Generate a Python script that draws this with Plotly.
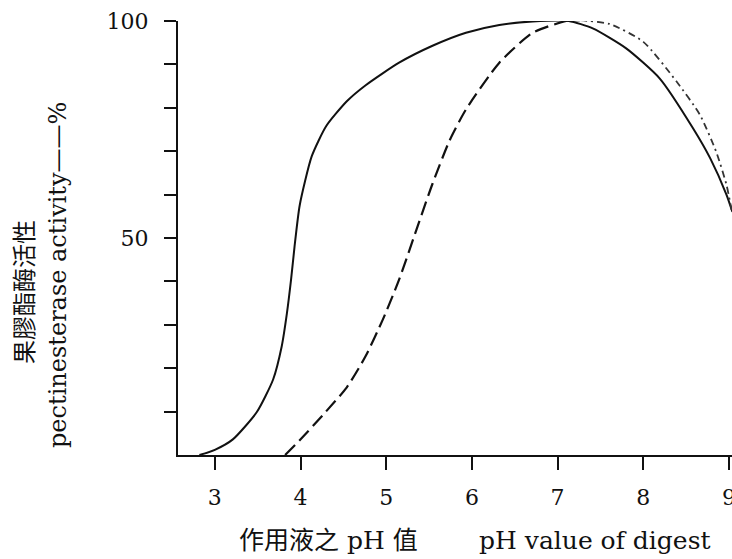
import plotly.graph_objects as go

# Solid curve (pH, activity %)
ph_solid = [2.82, 3.0, 3.21, 3.49, 3.68, 3.78, 3.84, 3.89, 3.93, 3.99, 4.13, 4.30, 4.54, 4.76,
            5.15, 5.54, 5.93, 6.32, 6.71, 7.13, 7.41, 7.80, 8.19, 8.58, 8.78, 8.97, 9.04]
act_solid = [0, 1.2, 3.6, 9.9, 17.4, 25, 32.5, 40.5, 48, 57.5, 68.8, 75.8, 81.5, 85.2,
             90.4, 94.3, 97.3, 99.1, 99.9, 100, 98.3, 93.7, 86.8, 75.3, 68.4, 60.0, 56]

# Dashed curve, rising part
ph_dash_rise = [3.82, 3.99, 4.26, 4.54, 4.76, 4.96, 5.15, 5.38, 5.54, 5.74, 5.93, 6.32, 6.71, 7.10, 7.26]
act_dash_rise = [0, 3.4, 9.2, 15.6, 22.8, 31.2, 40.4, 53.5, 62.5, 72.5, 79.6, 90.4, 97.3, 100, 100.2]

# Dashed curve, falling part (dash-dot)
ph_dash_fall = [7.26, 7.61, 8.00, 8.39, 8.66, 8.85, 8.97, 9.03]
act_dash_fall = [100.2, 99.3, 95.2, 86.0, 78.4, 69.9, 62.3, 56.5]

x_tickvals = [3, 4, 5, 6, 7, 8, 9]
x_ticktext = ["3", "4", "5", "6", "7", "8", "9"]
y_tickvals = [10, 20, 30, 40, 50, 60, 70, 80, 90, 100]
y_ticktext = ["", "", "", "", "50", "", "", "", "", "100"]

SERIF = "DejaVu Serif, Noto Sans CJK TC"

fig = go.Figure()
fig.add_trace(go.Scatter(x=ph_solid, y=act_solid, mode="lines",
                         line=dict(color="#111", width=2, shape="spline", smoothing=0.6),
                         showlegend=False, cliponaxis=False))
fig.add_trace(go.Scatter(x=ph_dash_rise, y=act_dash_rise, mode="lines",
                         line=dict(color="#111", width=2.2, shape="spline", smoothing=0.6, dash="14px,6px"),
                         showlegend=False, cliponaxis=False))
fig.add_trace(go.Scatter(x=ph_dash_fall, y=act_dash_fall, mode="lines",
                         line=dict(color="#333", width=1.8, shape="spline", smoothing=0.6, dash="7px,4px,2px,4px"),
                         showlegend=False, cliponaxis=False))

fig.update_layout(
    width=732, height=559,
    margin=dict(l=178, r=0, t=21, b=104, autoexpand=False),
    paper_bgcolor="white", plot_bgcolor="white",
    font=dict(family=SERIF, color="#111"),
    xaxis=dict(range=[2.57, 9.035], showgrid=False, zeroline=False,
               showline=True, linecolor="#111", linewidth=2,
               ticks="outside", ticklen=13, tickwidth=2, tickcolor="#111",
               tickvals=x_tickvals, ticktext=x_ticktext,
               tickfont=dict(family=SERIF, size=22, color="#111"),
               ticklabelstandoff=9, ticklabeloverflow="allow"),
    yaxis=dict(range=[0, 100], showgrid=False, zeroline=False,
               showline=True, linecolor="#111", linewidth=2,
               ticks="outside", ticklen=12, tickwidth=2, tickcolor="#111",
               tickvals=y_tickvals, ticktext=y_ticktext,
               tickfont=dict(family=SERIF, size=22, color="#111"),
               ticklabelstandoff=11, ticklabeloverflow="allow"),
)

ann = [
    dict(text="作用液之 pH 值", x=0.2708, y=-0.196),
    dict(text="pH value of digest", x=0.7527, y=-0.196),
]
for a in ann:
    fig.add_annotation(text=a["text"], x=a["x"], y=a["y"], xref="paper", yref="paper",
                       xanchor="center", yanchor="middle", showarrow=False,
                       font=dict(family=SERIF, size=25, color="#111"))

fig.add_annotation(text="果膠酯酶活性", x=-0.2798, y=0.3756, xref="paper", yref="paper",
                   xanchor="center", yanchor="middle", showarrow=False, textangle=-90,
                   font=dict(family="Noto Sans CJK TC", size=24, color="#111"))
fig.add_annotation(text="pectinesterase activity——%", x=-0.2166, y=0.4147, xref="paper", yref="paper",
                   xanchor="center", yanchor="middle", showarrow=False, textangle=-90,
                   font=dict(family=SERIF, size=24, color="#111"))

fig.write_html("out.html")
